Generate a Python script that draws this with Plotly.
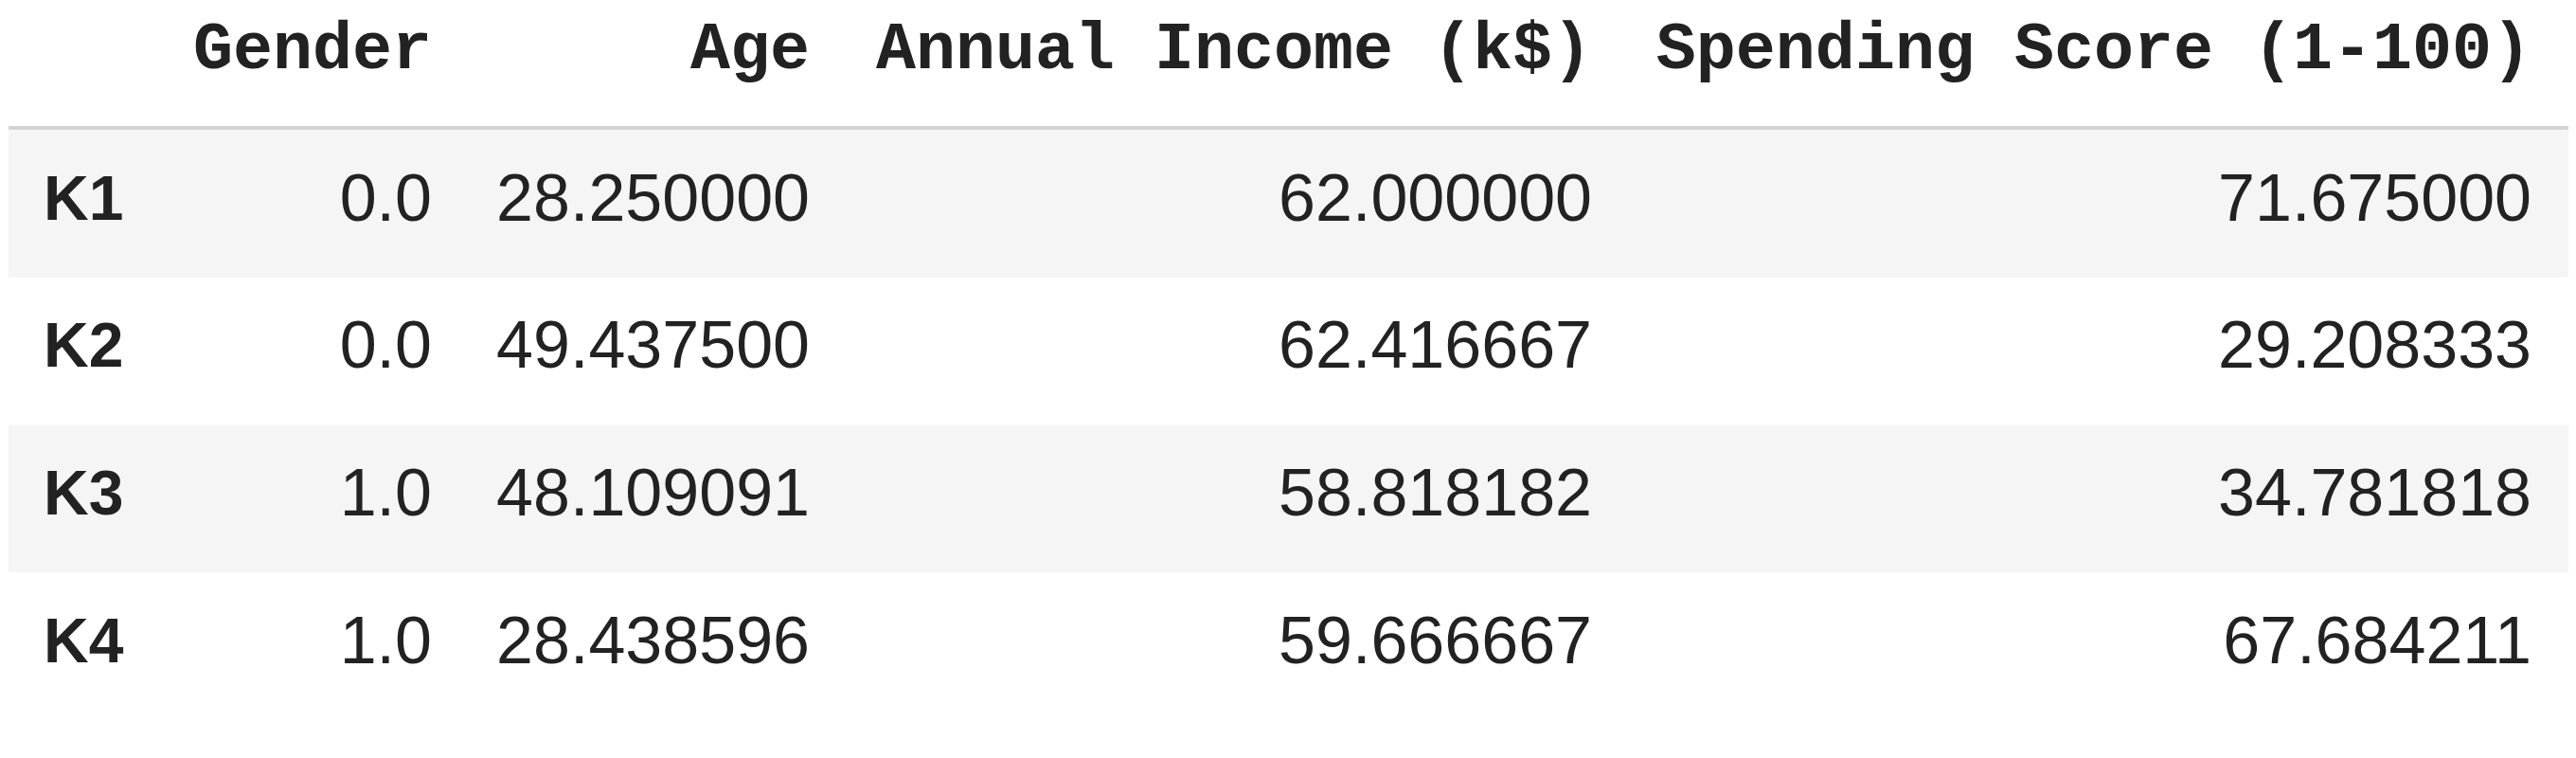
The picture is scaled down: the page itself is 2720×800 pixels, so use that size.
import plotly.graph_objects as go

# data
row_labels = ["K1", "K2", "K3", "K4"]
col_names = ["Gender", "Age", "Annual Income (k$)", "Spending Score (1-100)"]
gender = [0.0, 0.0, 1.0, 1.0]
age = [28.250000, 49.437500, 48.109091, 28.438596]
income = [62.000000, 62.416667, 58.818182, 59.666667]
spending = [71.675000, 29.208333, 34.781818, 67.684211]

# layout constants (pixels on a 2720 wide x axis, rows in index units)
# the page body adds ~8px margin, so everything is pulled back a bit
W, H = 2720, 800
COL_RIGHT = [448, 847, 1673, 2665]
INDEX_LEFT = 38
TABLE_LEFT = 1
ROW_PX = 155.7
ROW0_PX = 207
HEADER_PX = 46

TEXT = "#222222"
STRIPE = "#f5f5f5"
RULE = "#d3d3d3"
BODY_FONT = "Liberation Sans, Arial, Helvetica, sans-serif"
HEAD_FONT = "Liberation Mono, Courier New, monospace"


def px_to_row(p):
    return (p - ROW0_PX) / ROW_PX


rows = list(range(len(row_labels)))
columns = [
    [f"{v:.1f}" for v in gender],
    [f"{v:.6f}" for v in age],
    [f"{v:.6f}" for v in income],
    [f"{v:.6f}" for v in spending],
]

fig = go.Figure()

# striped rows
for i in rows:
    if i % 2 == 0:
        fig.add_shape(type="rect", xref="x", yref="y",
                      x0=TABLE_LEFT, x1=W, y0=i - 0.5, y1=i + 0.5,
                      fillcolor=STRIPE, line_width=0, layer="below")

# rule under the header
rule_y = px_to_row(ROW0_PX - 78 - 2)
fig.add_shape(type="line", xref="x", yref="y",
              x0=TABLE_LEFT, x1=W, y0=rule_y, y1=rule_y,
              line=dict(color=RULE, width=4))

# header
fig.add_trace(go.Scatter(
    x=COL_RIGHT, y=[px_to_row(HEADER_PX)] * len(col_names),
    mode="text", text=col_names, textposition="middle left",
    textfont=dict(family=HEAD_FONT, size=70, color=TEXT, weight="bold"),
    hoverinfo="skip", showlegend=False,
))

# index
fig.add_trace(go.Scatter(
    x=[INDEX_LEFT] * len(rows), y=rows,
    mode="text", text=row_labels, textposition="middle right",
    textfont=dict(family=BODY_FONT, size=66, color=TEXT, weight="bold"),
    hoverinfo="skip", showlegend=False,
))

# cells
for xr, vals in zip(COL_RIGHT, columns):
    fig.add_trace(go.Scatter(
        x=[xr] * len(rows), y=rows,
        mode="text", text=vals, textposition="middle left",
        textfont=dict(family=BODY_FONT, size=70, color=TEXT),
        hoverinfo="skip", showlegend=False,
    ))

fig.update_xaxes(range=[0, W], visible=False, fixedrange=True)
fig.update_yaxes(range=[px_to_row(H), px_to_row(0)], visible=False, fixedrange=True)
fig.update_layout(
    width=W, height=H,
    margin=dict(l=0, r=0, t=0, b=0),
    paper_bgcolor="white", plot_bgcolor="white",
)

fig.write_html("out.html", config={"displayModeBar": False})
